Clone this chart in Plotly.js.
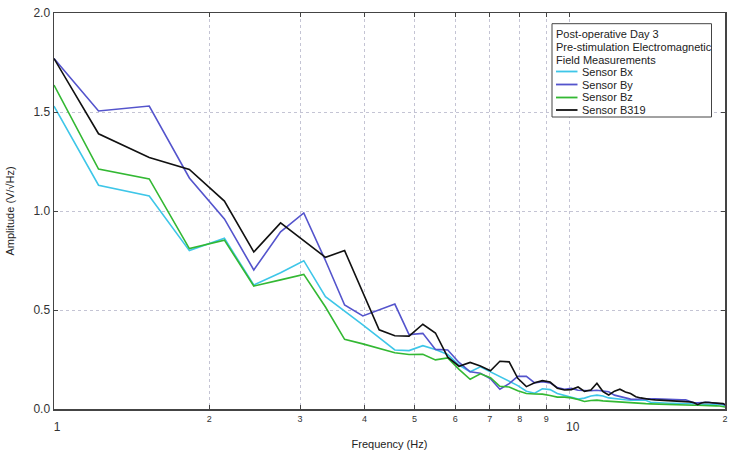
<!DOCTYPE html>
<html>
<head>
<meta charset="utf-8">
<script src="https://cdn.plot.ly/plotly-3.0.1.min.js"></script>
<style>html,body{margin:0;padding:0;background:#fff;}#chart{width:750px;height:450px;}</style>
</head>
<body>
<div id="chart"></div>
<script>
// Frequencies (Hz)
var freq = [1.0, 1.22, 1.53, 1.83, 2.14, 2.44, 2.75, 3.05, 3.36, 3.66, 3.97, 4.27, 4.58, 4.88,
  5.19, 5.49, 5.80, 6.10, 6.41, 6.71, 7.02, 7.32, 7.63, 7.93, 8.24, 8.55, 8.85, 9.16, 9.46, 9.77,
  10.07, 10.38, 10.68, 10.99, 11.29, 11.60, 11.90, 12.21, 12.51, 12.82, 13.12, 13.43, 13.73, 14.04,
  14.34, 14.65, 14.95, 15.26, 15.56, 15.87, 16.17, 16.48, 16.78, 17.09, 17.39, 17.70, 18.00, 18.31,
  18.61, 18.92, 19.22, 19.53, 19.83, 20.14];

var sensorBx = [1.53, 1.13, 1.076, 0.80, 0.862, 0.626, 0.688, 0.749, 0.567, 0.496, 0.425, 0.36, 0.298, 0.295,
  0.32, 0.30, 0.275, 0.222, 0.188, 0.213, 0.188, 0.162, 0.14, 0.118, 0.09, 0.08, 0.102, 0.098, 0.078, 0.068,
  0.058, 0.05, 0.055, 0.066, 0.07, 0.066, 0.056, 0.052, 0.049, 0.047, 0.045, 0.045, 0.045, 0.044,
  0.034, 0.032, 0.031, 0.03, 0.029, 0.029, 0.028, 0.026, 0.025, 0.025, 0.025, 0.025, 0.025, 0.024,
  0.024, 0.024, 0.024, 0.023, 0.02, 0.014];

var sensorBy = [1.77, 1.505, 1.53, 1.167, 0.96, 0.702, 0.895, 0.99, 0.75, 0.525, 0.47, 0.50, 0.53, 0.376,
  0.382, 0.301, 0.298, 0.235, 0.188, 0.181, 0.153, 0.10, 0.128, 0.165, 0.165, 0.132, 0.138, 0.132, 0.108, 0.10,
  0.104, 0.095, 0.092, 0.092, 0.095, 0.09, 0.087, 0.07, 0.064, 0.055, 0.05, 0.049, 0.051, 0.052,
  0.052, 0.051, 0.05, 0.048, 0.046, 0.045, 0.044, 0.046, 0.047, 0.04, 0.031, 0.031, 0.033, 0.034,
  0.034, 0.03, 0.028, 0.026, 0.025, 0.018];

var sensorBz = [1.636, 1.212, 1.162, 0.81, 0.853, 0.621, 0.652, 0.68, 0.515, 0.352, 0.329, 0.306, 0.284, 0.275,
  0.276, 0.248, 0.258, 0.20, 0.15, 0.178, 0.158, 0.115, 0.111, 0.092, 0.078, 0.076, 0.075, 0.068, 0.06, 0.06,
  0.056, 0.048, 0.038, 0.043, 0.045, 0.041, 0.039, 0.037, 0.036, 0.033, 0.029, 0.029, 0.028, 0.027,
  0.026, 0.025, 0.023, 0.022, 0.021, 0.02, 0.02, 0.019, 0.019, 0.019, 0.019, 0.019, 0.019, 0.019,
  0.018, 0.017, 0.016, 0.015, 0.012, 0.009];

var sensorB319 = [1.77, 1.39, 1.27, 1.21, 1.05, 0.793, 0.94, 0.848, 0.766, 0.80, 0.59, 0.40, 0.37, 0.368,
  0.428, 0.384, 0.262, 0.216, 0.235, 0.217, 0.193, 0.241, 0.238, 0.155, 0.113, 0.133, 0.143, 0.136, 0.105, 0.096,
  0.098, 0.111, 0.089, 0.096, 0.13, 0.088, 0.071, 0.09, 0.1, 0.086, 0.078, 0.062, 0.056, 0.05,
  0.048, 0.046, 0.045, 0.044, 0.043, 0.041, 0.04, 0.038, 0.037, 0.036, 0.033, 0.022, 0.03, 0.034,
  0.033, 0.032, 0.031, 0.029, 0.027, 0.018];

var seriesNames = ['Sensor Bx', 'Sensor By', 'Sensor Bz', 'Sensor B319'];
var seriesData = [sensorBx, sensorBy, sensorBz, sensorB319];
var seriesColors = ['#3ec6e8', '#5454cc', '#33b833', '#111111'];
var legendTitleLines = ['Post-operative Day 3', 'Pre-stimulation Electromagnetic', 'Field Measurements'];

var traces = seriesNames.map(function (n, i) {
  return {
    x: freq, y: seriesData[i], name: n, type: 'scatter', mode: 'lines',
    line: {color: seriesColors[i], width: 1.6}, showlegend: false
  };
});

// Compact legend box (drawn in paper coordinates)
var fontFam = 'Liberation Sans, Arial, sans-serif';
var plotL = 54, plotR = 725, plotT = 13, plotB = 409;
function px2x(p) { return (p - plotL) / (plotR - plotL); }
function px2y(p) { return (plotB - p) / (plotB - plotT); }
var lineRowsPx = [33.7, 47, 59.7, 71.5, 84.5, 97.5, 110];

var annotations = [];
var shapes = [{
  type: 'rect', xref: 'paper', yref: 'paper',
  x0: px2x(552), x1: px2x(711.5), y0: px2y(117), y1: px2y(23.7),
  fillcolor: '#fff', line: {color: '#444', width: 1}, layer: 'above'
}];
legendTitleLines.forEach(function (t, i) {
  annotations.push({
    xref: 'paper', yref: 'paper', x: px2x(555), y: px2y(lineRowsPx[i]),
    xanchor: 'left', yanchor: 'middle', showarrow: false, text: t,
    font: {family: fontFam, size: 11, color: '#222'}, borderpad: 0
  });
});
seriesNames.forEach(function (n, i) {
  var r = lineRowsPx[legendTitleLines.length + i];
  shapes.push({
    type: 'line', xref: 'paper', yref: 'paper',
    x0: px2x(556), x1: px2x(577.5), y0: px2y(r), y1: px2y(r),
    line: {color: seriesColors[i], width: 1.8}, layer: 'above'
  });
  annotations.push({
    xref: 'paper', yref: 'paper', x: px2x(581), y: px2y(r),
    xanchor: 'left', yanchor: 'middle', showarrow: false, text: n,
    font: {family: fontFam, size: 11, color: '#222'}, borderpad: 0
  });
});

var layout = {
  width: 750, height: 450,
  margin: {l: plotL, r: 750 - plotR, t: plotT, b: 450 - plotB},
  paper_bgcolor: '#fff', plot_bgcolor: '#fff',
  font: {family: fontFam, size: 11, color: '#333'},
  showlegend: false,
  shapes: shapes,
  annotations: annotations,
  xaxis: {
    type: 'log', range: [0, Math.log10(20)], dtick: 'D1',
    showgrid: true, gridcolor: '#c4c4d4', griddash: 'dot', gridwidth: 1,
    showline: true, linecolor: '#444', linewidth: 1.5, mirror: 'allticks',
    ticks: 'inside', ticklen: 4, tickcolor: '#444',
    tickfont: {family: fontFam, size: 12, color: '#333'},
    zeroline: false,
    title: {text: 'Frequency (Hz)', font: {family: fontFam, size: 11, color: '#222'}, standoff: 8}
  },
  yaxis: {
    range: [0, 2], dtick: 0.5, tickformat: '.1f',
    showgrid: true, gridcolor: '#c4c4d4', griddash: 'dot', gridwidth: 1,
    showline: true, linecolor: '#444', linewidth: 1.5, mirror: 'allticks',
    ticks: 'inside', ticklen: 4, tickcolor: '#444',
    tickfont: {family: fontFam, size: 12, color: '#333'},
    zeroline: false,
    title: {text: 'Amplitude (V/\u221AHz)', font: {family: fontFam, size: 11, color: '#222'}, standoff: 16}
  }
};

Plotly.newPlot('chart', traces, layout, {displayModeBar: false, staticPlot: true});
</script>
</body>
</html>
